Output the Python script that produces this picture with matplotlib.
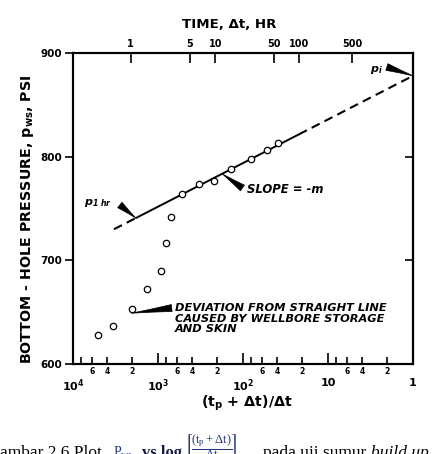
"""Horner plot of a build-up test: p_ws vs (tp + dt)/dt, with the straight line."""

import matplotlib

matplotlib.use("Agg")
import matplotlib.pyplot as plt
from matplotlib.ticker import NullLocator

plt.rcParams["font.family"] = "DejaVu Sans"
plt.rcParams["font.weight"] = "bold"
plt.rcParams["mathtext.default"] = "regular"

horner_ratio = [5060, 3340, 2020, 1340, 927, 802, 695, 517, 327, 218, 138, 81, 52, 38.6]
p_ws = [628, 637, 653, 672, 690, 717, 742, 764, 774, 777, 788, 798, 806, 813]

# straight line: dashed, solid, dashed (extrapolated to p_i at ratio = 1)
line_ratio = [3300, 1800, 22, 1.0]
line_p = [730, 741, 821.5, 878]

# top axis: shut-in time in hours, producing time tp
tp_hours = 2100
dt_ticks = [1, 5, 10, 50, 100, 500]

major_ticks = [1e4, 1e3, 1e2, 10, 1]
major_labels = ["10$^{4}$", "10$^{3}$", "10$^{2}$", "10", "1"]
minor_mult = [8, 6, 4, 2]
minor_names = ["", "6", "4", "2"]
decades = [1000, 100, 10, 1]
p_ticks = [600, 700, 800, 900]

W, H = 433, 454
fig = plt.figure(figsize=(W / 100, H / 100), dpi=100)
ax = fig.add_axes([73 / W, 1 - 364 / H, 340 / W, 311 / H])
ax.set_xscale("log")
ax.set_xlim(1e4, 1)
ax.set_ylim(600, 900)

dash = (0, (4.3, 2.6))
ax.plot(line_ratio[:2], line_p[:2], color="k", lw=1.5, linestyle=dash)
ax.plot(line_ratio[1:3], line_p[1:3], color="k", lw=1.4)
ax.plot(line_ratio[2:], line_p[2:], color="k", lw=1.5, linestyle=dash, clip_on=False)
ax.plot(horner_ratio, p_ws, "o", ms=4.6, mfc="white", mec="k", mew=0.9, zorder=3)

# bottom axis
ax.set_xticks(major_ticks, major_labels)
minor_pos = [m * d for d in decades for m in minor_mult]
ax.set_xticks(minor_pos, minor_names * len(decades), minor=True)
ax.tick_params(axis="x", which="major", direction="in", length=8, width=1.2,
               pad=10, labelsize=8)
ax.tick_params(axis="x", which="minor", direction="in", length=5, width=1.2,
               pad=2, labelsize=5.5)
ax.set_yticks(p_ticks)
ax.tick_params(axis="y", direction="out", length=6, width=1.2, labelsize=7.5, pad=2)

right = ax.secondary_yaxis("right")
right.set_yticks(p_ticks)
right.tick_params(direction="in", length=6, width=1.2, labelright=False)
right.spines["right"].set_linewidth(1.5)

# top axis: time, hr
top = ax.twiny()
top.set_xscale("log")
top.set_xlim(ax.get_xlim())
top.set_xticks([(tp_hours + dt) / dt for dt in dt_ticks], [str(d) for d in dt_ticks])
top.xaxis.set_minor_locator(NullLocator())
top.tick_params(axis="x", direction="in", length=7, width=1.2, pad=3, labelsize=7)

for a in (ax, top):
    for s in a.spines.values():
        s.set_linewidth(1.5)

# labels
fig.text(28 / W, 1 - 219 / H, "BOTTOM - HOLE PRESSURE, p$_{ws}$, PSI",
         rotation=90, ha="center", va="center", fontsize=10.3)
fig.text(229 / W, 1 - 24 / H, "TIME, \u0394t, HR", ha="center", va="center", fontsize=9.6)
fig.text(247 / W, 1 - 403 / H, "(t$_{p}$ + \u0394t)/\u0394t", ha="center", va="center",
         fontsize=10.3)

# wedge arrows (thick end at the note, point on the line) and notes
wedge = dict(arrowstyle="wedge,tail_width=0.5,shrink_factor=0.45", fc="k", ec="k",
             lw=0.5, shrinkA=0, shrinkB=0)
ax.annotate("", xy=(1.0, 878), xytext=(2.03, 886.5), arrowprops=wedge,
            annotation_clip=False)
ax.text(2.25, 884, "p$_{i}$", ha="right", va="center", style="italic", fontsize=8)

ax.annotate("", xy=(1825, 740.8), xytext=(2812, 753.4), arrowprops=wedge)
ax.text(3490, 755, "p$_{1\\ hr}$", ha="right", va="center", style="italic", fontsize=8)

ax.annotate("", xy=(174.6, 783.3), xytext=(101.6, 769.8), arrowprops=wedge)
ax.text(88.8, 768, "SLOPE = -m", ha="left", va="center", style="italic", fontsize=8.4)

ax.annotate("", xy=(2051, 649), xytext=(690, 654), arrowprops=wedge)
ax.text(637, 658.5, "DEVIATION FROM STRAIGHT LINE\nCAUSED BY WELLBORE STORAGE\nAND SKIN",
        ha="left", va="top", style="italic", fontsize=8.2, linespacing=1.05)

# caption, clipped at the bottom of the page
cap_y = -3 / H
serif = dict(family="Liberation Serif", weight="normal", fontsize=12.5, va="baseline")
fig.text(0, cap_y, "ambar 2.6 Plot", **serif)
fig.text(113 / W, cap_y, "$P_{ws}$", color="#1f3a7a", math_fontfamily="stix",
         family="Liberation Serif", weight="normal", fontsize=10, va="baseline")
fig.text(142 / W, cap_y, "vs log", family="Liberation Serif", weight="bold",
         fontsize=12, va="baseline", color="#1a1a40")
fig.text(185 / W, 1 / H, "$\\left[\\dfrac{(t_p + \\Delta t)}{\\Delta t}\\right]$",
         math_fontfamily="stix", family="Liberation Serif", weight="normal",
         fontsize=9, va="baseline", color="#24337a")
fig.text(263 / W, cap_y, "pada uji sumur", **serif)
fig.text(371 / W, cap_y, "build up", style="italic", **serif)

fig.savefig("out.png", dpi=100)
